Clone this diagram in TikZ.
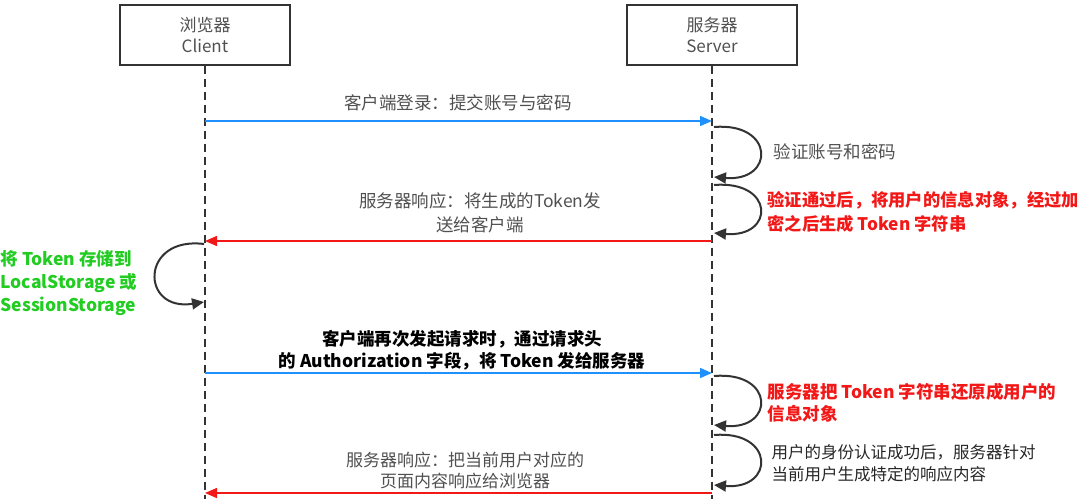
\documentclass[tikz,border=0pt]{standalone}
\usepackage{fontspec}
\setmainfont{Noto Sans CJK SC}
\usetikzlibrary{arrows.meta}
\definecolor{tgray}{HTML}{505050}
\definecolor{lblue}{HTML}{1E90FF}
\definecolor{lred}{HTML}{F21818}
\definecolor{lgreen}{HTML}{22CC22}
\begin{document}
\begin{tikzpicture}[x=1pt,y=-1pt,
  box/.style={draw=black!80,line width=1.2pt,minimum width=170pt,minimum height=60pt,align=center,text=tgray,font=\fontsize{17}{21}\selectfont},
  life/.style={draw=black!80,line width=1.5pt,dash pattern=on 8pt off 5pt},
  msg/.style={line width=1.5pt,-{Triangle[length=12pt,width=10pt]}},
  loop/.style={draw=black!80,line width=2pt,-{Triangle[length=12pt,width=11pt]}},
  lbl/.style={font=\fontsize{17.5}{24}\selectfont,text=tgray,align=center},
  note/.style={align=left,anchor=west}]
\useasboundingbox (0,0) rectangle (1090,499);
\node[box] (c) at (205,35) {浏览器\\Client};
\node[box] (s) at (712,35) {服务器\\Server};
\coordinate (cb) at (205,499); \coordinate (sb) at (712,499);
\draw[life] (c.south) -- (cb);
\draw[life] (s.south) -- (sb);
% message 1
\coordinate (c1) at (205,121); \coordinate (s1) at (712,121);
\draw[msg,lblue] (c1) -- (s1);
\node[lbl] (t1) at (458,103) {客户端登录：提交账号与密码};
% loop 1
\coordinate (l1a) at (714,127); \coordinate (l1b) at (714,177);
\draw[loop] (l1a) .. controls (775,122) and (775,182) .. (l1b);
\node[note,text=tgray,font=\fontsize{17.5}{24}\selectfont] (n1) at (770,152) {验证账号和密码};
% loop 2
\coordinate (l2a) at (714,185); \coordinate (l2b) at (714,233);
\draw[loop] (l2a) .. controls (775,180) and (775,238) .. (l2b);
\node[note,text=lred,font=\fontsize{17.3}{24}\selectfont\bfseries] (n2) at (764,212) {验证通过后，将用户的信息对象，经过加\\密之后生成 Token 字符串};
% message 2
\coordinate (s2) at (712,241); \coordinate (c2) at (205,241);
\draw[msg,lred] (s2) -- (c2);
\node[lbl] (t2) at (480,213) {服务器响应：将生成的Token发\\送给客户端};
% client loop
\coordinate (cla) at (204,244); \coordinate (clb) at (204,302);
\draw[loop] (cla) .. controls (140,236) and (140,312) .. (clb);
\node[note,text=lgreen,font=\fontsize{17.5}{23}\selectfont\bfseries] (n3) at (-3,283) {将 Token 存储到\\LocalStorage 或\\SessionStorage};
% message 3
\coordinate (c3) at (205,373); \coordinate (s3) at (712,373);
\draw[msg,lblue] (c3) -- (s3);
\node[lbl,text=black,font=\fontsize{17.5}{22}\selectfont\bfseries] (t3) at (462,350) {客户端再次发起请求时，通过请求头\\的 Authorization 字段，将 Token 发给服务器};
% loop 3
\coordinate (l3a) at (714,376); \coordinate (l3b) at (714,425);
\draw[loop] (l3a) .. controls (775,371) and (775,430) .. (l3b);
\node[note,text=lred,font=\fontsize{17.5}{22}\selectfont\bfseries] (n4) at (764,403) {服务器把 Token 字符串还原成用户的\\信息对象};
% loop 4
\coordinate (l4a) at (714,435); \coordinate (l4b) at (714,485);
\draw[loop] (l4a) .. controls (775,430) and (775,490) .. (l4b);
\node[note,text=black!85,font=\fontsize{16.5}{22}\selectfont] (n5) at (768,463) {用户的身份认证成功后，服务器针对\\当前用户生成特定的响应内容};
% message 4
\coordinate (s4) at (712,493); \coordinate (c4) at (205,493);
\draw[msg,lred] (s4) -- (c4);
\node[lbl,font=\fontsize{17}{21}\selectfont] (t4) at (465,471) {服务器响应：把当前用户对应的\\页面内容响应给浏览器};
\end{tikzpicture}
\end{document}
